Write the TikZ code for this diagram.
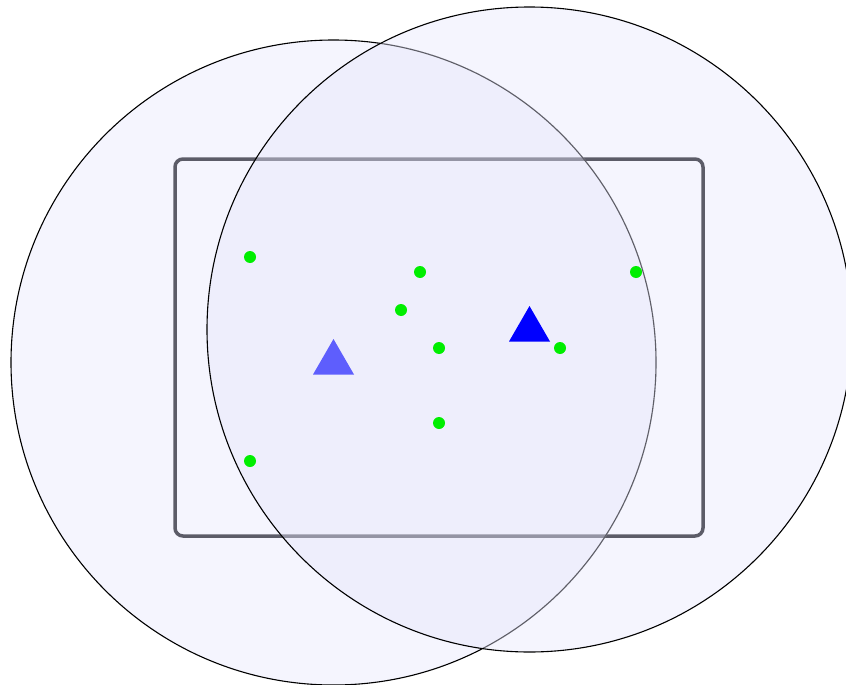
\documentclass[tikz,border=0pt]{standalone}
\usetikzlibrary{calc}
\definecolor{circfill}{RGB}{245,245,254}
\definecolor{overlaycol}{RGB}{230,230,251}
\definecolor{rectcol}{RGB}{92,92,104}
\definecolor{dotgreen}{RGB}{0,238,0}
\tikzset{
  circstroke/.style={draw=black, line width=1.1pt},
  framebox/.style={draw=rectcol, line width=3.5pt, rounded corners=8pt},
  tri/.style={fill=blue},
  dot/.style={fill=dotgreen},
}
\begin{document}
\begin{tikzpicture}[x=1pt,y=-1pt]
\useasboundingbox (0,0) rectangle (846,685);
\coordinate (cL) at (333.5,362.5);
\coordinate (cR) at (529.5,329.5);
% circle fills
\fill[circfill] (cL) circle (322.5);
\fill[circfill] (cR) circle (322.5);
% frame
\draw[framebox] (175,159) rectangle (703,536);
% left triangle
\fill[tri] ($(cL)+(0,-23.5)$) -- ($(cL)+(20.5,12)$) -- ($(cL)+(-20.5,12)$) -- cycle;
% left circle stroke
\draw[circstroke] (cL) circle (322.5);
% overlay on the lens
\begin{scope}
  \clip (cR) circle (322.5);
  \fill[overlaycol, fill opacity=0.41] (cL) circle (323.3);
\end{scope}
% right circle stroke
\draw[circstroke] (cR) circle (322.5);
% right triangle
\fill[tri] ($(cR)+(0,-23.5)$) -- ($(cR)+(20.5,12)$) -- ($(cR)+(-20.5,12)$) -- cycle;
% dots
\foreach \p in {(250,257),(420,272),(636,272),(401,310),(439,348),(560,348),(439,423),(250,461)}
  \fill[dot] \p circle (6);
\end{tikzpicture}
\end{document}
